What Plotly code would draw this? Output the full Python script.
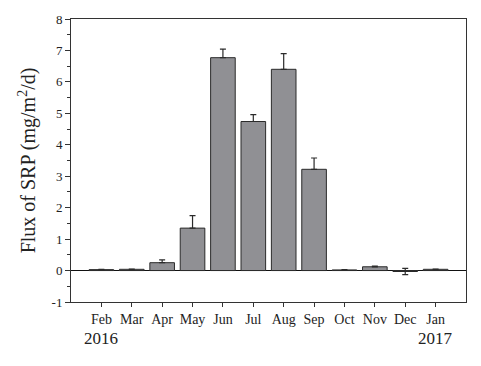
import plotly.graph_objects as go

months = ['Feb', 'Mar', 'Apr', 'May', 'Jun', 'Jul', 'Aug', 'Sep', 'Oct', 'Nov', 'Dec', 'Jan']
flux = [0.03, 0.04, 0.25, 1.35, 6.77, 4.74, 6.40, 3.22, 0.02, 0.12, -0.03, 0.04]
err_plus = [0.01, 0.01, 0.09, 0.40, 0.27, 0.22, 0.50, 0.36, 0.01, 0.02, 0.10, 0.01]
err_minus = [0, 0, 0, 0, 0, 0, 0, 0, 0, 0, 0.10, 0]
y_ticks = [-1, 0, 1, 2, 3, 4, 5, 6, 7, 8]
y_ticktext = ['-1', '0', '1', '2', '3', '4', '5', '6', '7', '8']
positions = list(range(1, len(months) + 1))

FONT = 'Times New Roman, Liberation Serif, serif'

fig = go.Figure()
fig.add_trace(go.Bar(
    x=positions, y=flux, width=0.81,
    marker=dict(color='#909094', line=dict(color='#2b2b2b', width=1)),
    error_y=dict(type='data', array=err_plus, arrayminus=err_minus, symmetric=False,
                 color='#2b2b2b', thickness=1.2, width=3),
))

fig.update_layout(
    width=481, height=366,
    margin=dict(l=71, r=15, t=14, b=64),
    plot_bgcolor='white', paper_bgcolor='white',
    showlegend=False,
    font=dict(family=FONT, color='#222', size=13),
    xaxis=dict(
        range=[0, 13],
        tickvals=positions,
        ticktext=months,
        ticks='outside', ticklen=4, tickcolor='#333',
        showline=True, linecolor='#333', linewidth=1, mirror=True,
        showgrid=False, zeroline=False,
        tickfont=dict(family=FONT, size=14, color='#222'),
    ),
    yaxis=dict(
        range=[-1, 8], tickvals=y_ticks, ticktext=y_ticktext,
        ticks='outside', ticklen=5, tickcolor='#333',
        minor=dict(dtick=0.5, tick0=0, ticks='outside', ticklen=3, tickcolor='#333'),
        showline=True, linecolor='#333', linewidth=1, mirror=True,
        showgrid=False, zeroline=True, zerolinecolor='#111', zerolinewidth=1,
        tickfont=dict(family=FONT, size=13, color='#222'),
        title=dict(text='Flux of SRP (mg/m<sup>2</sup>/d)',
                   font=dict(family=FONT, size=20, color='#222'), standoff=10),
    ),
    annotations=[
        dict(text='2016', x=1, xref='x', y=-0.13, yref='paper', showarrow=False,
             font=dict(family=FONT, size=17, color='#222'), yanchor='middle'),
        dict(text='2017', x=12, xref='x', y=-0.13, yref='paper', showarrow=False,
             font=dict(family=FONT, size=17, color='#222'), yanchor='middle'),
    ],
)

fig.write_html('out.html', config={'displayModeBar': False},
               post_script="document.body.style.margin='0px';")
